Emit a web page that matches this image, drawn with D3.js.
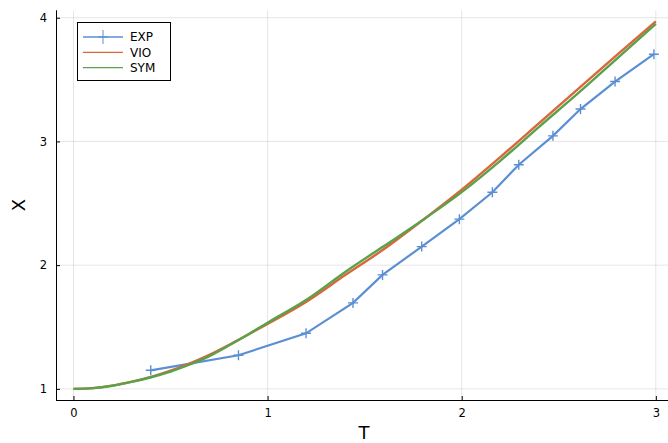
<!DOCTYPE html>
<html><head><meta charset="utf-8">
<script src="https://cdn.jsdelivr.net/npm/d3@7"></script>
<style>body{margin:0;background:#fff}svg{display:block;font-family:"DejaVu Sans",sans-serif}</style>
</head><body><svg id="c" width="668" height="443"></svg>
<script>
const expT = [0.398, 0.85, 1.198, 1.44, 1.592, 1.794, 1.988, 2.158, 2.294, 2.47, 2.612, 2.79, 2.99];
const expX = [1.150, 1.272, 1.449, 1.695, 1.921, 2.150, 2.372, 2.589, 2.812, 3.045, 3.262, 3.484, 3.705];
const curveT = [0, 0.1, 0.2, 0.3, 0.4, 0.5, 0.6, 0.7, 0.8, 0.9, 1.0, 1.2, 1.4, 1.6, 1.8, 2.0, 2.2, 2.4, 2.6, 2.8, 3.0];
const vioX = [1.0, 1.006, 1.026, 1.058, 1.097, 1.147, 1.207, 1.276, 1.355, 1.44, 1.525, 1.705, 1.92, 2.13, 2.365, 2.61, 2.875, 3.15, 3.425, 3.70, 3.97];
const symX = [1.0, 1.006, 1.025, 1.056, 1.094, 1.14, 1.197, 1.265, 1.35, 1.44, 1.535, 1.72, 1.945, 2.155, 2.365, 2.59, 2.845, 3.12, 3.39, 3.67, 3.95];
const xTicks = [0, 1, 2, 3];
const yTicks = [1, 2, 3, 4];
const seriesNames = ["EXP", "VIO", "SYM"];
const colors = ["#5b8fd4", "#d9673b", "#5aa14a"];

const svg = d3.select("#c");
const L = 56, B = 400, T = 10.3, R = 673.3;
const x = d3.scaleLinear().domain([-0.09, 3.09]).range([L, R]);
const y = d3.scaleLinear().domain([0.91, 4.06]).range([B, T]);

const defs = svg.append("defs");
defs.append("clipPath").attr("id","clip").append("rect").attr("x",L).attr("y",T-5).attr("width",R-L).attr("height",B-T+5);

// grid
const g = svg.append("g");
g.selectAll(".gx").data(xTicks).join("line").attr("x1",d=>x(d)).attr("x2",d=>x(d)).attr("y1",B).attr("y2",T)
  .attr("stroke","#000").attr("stroke-opacity",0.1).attr("stroke-width",1);
g.selectAll(".gy").data(yTicks).join("line").attr("x1",L).attr("x2",668).attr("y1",d=>y(d)).attr("y2",d=>y(d))
  .attr("stroke","#000").attr("stroke-opacity",0.1).attr("stroke-width",1);

// axes
const xa = d3.axisBottom(x).tickValues(xTicks).tickFormat(d3.format("d")).tickSizeInner(-4).tickSizeOuter(0).tickPadding(9);
const ya = d3.axisLeft(y).tickValues(yTicks).tickFormat(d3.format("d")).tickSizeInner(-4).tickSizeOuter(0).tickPadding(9);
const gx = svg.append("g").attr("transform",`translate(0,${B})`).call(xa);
const gy = svg.append("g").attr("transform",`translate(${L},0)`).call(ya);
[gx,gy].forEach(a=>{
  a.select(".domain").remove();
  a.selectAll("text").attr("font-size",11.5).attr("fill","#000").attr("font-family","DejaVu Sans, sans-serif");
  a.selectAll("line").attr("stroke","#000");
});
gx.selectAll("text").attr("dy","0.71em");
svg.append("line").attr("x1",L).attr("x2",668).attr("y1",B+0.5).attr("y2",B+0.5).attr("stroke","#000");
svg.append("line").attr("x1",L+0.5).attr("x2",L+0.5).attr("y1",B).attr("y2",T).attr("stroke","#000");

// labels
svg.append("text").attr("x",364).attr("y",439).attr("text-anchor","middle").attr("font-size",18).text("T");
svg.append("text").attr("transform","translate(25,205) rotate(-90)").attr("text-anchor","middle").attr("font-size",18).text("X");

// lines
const plot = svg.append("g").attr("clip-path","url(#clip)");
const line = d3.line().x(d=>x(d[0])).y(d=>y(d[1]));
const curve = d3.line().x(d=>x(d[0])).y(d=>y(d[1])).curve(d3.curveMonotoneX);
const expData = expT.map((t,i)=>[t,expX[i]]);
const vioData = curveT.map((t,i)=>[t,vioX[i]]);
const symData = curveT.map((t,i)=>[t,symX[i]]);
plot.append("path").datum(expData).attr("d",line).attr("fill","none").attr("stroke",colors[0]).attr("stroke-width",2.2);
plot.selectAll(".m").data(expData).join("path")
  .attr("d",d=>`M${x(d[0])-5},${y(d[1])}h10M${x(d[0])},${y(d[1])-5}v10`)
  .attr("stroke",colors[0]).attr("stroke-width",1.4).attr("fill","none");
plot.append("path").datum(vioData).attr("d",curve).attr("fill","none").attr("stroke",colors[1]).attr("stroke-width",2.4);
plot.append("path").datum(symData).attr("d",curve).attr("fill","none").attr("stroke",colors[2]).attr("stroke-width",2.4);

// legend
const lg = svg.append("g");
lg.append("rect").attr("x",77.5).attr("y",22.5).attr("width",93).attr("height",58).attr("fill","#fff").attr("stroke","#000").attr("stroke-width",1);
seriesNames.forEach((n,i)=>{
  const yy = 37 + i*15.3;
  lg.append("line").attr("x1",83).attr("x2",123).attr("y1",yy).attr("y2",yy).attr("stroke",colors[i]).attr("stroke-width",1.3);
  if(i===0) lg.append("path").attr("d",`M${103-5},${yy}h10M103,${yy-7}v14`).attr("stroke",colors[i]).attr("stroke-width",1).attr("fill","none");
  lg.append("text").attr("x",130).attr("y",yy).attr("dy","0.35em").attr("font-size",12).text(n);
});
</script></body></html>
